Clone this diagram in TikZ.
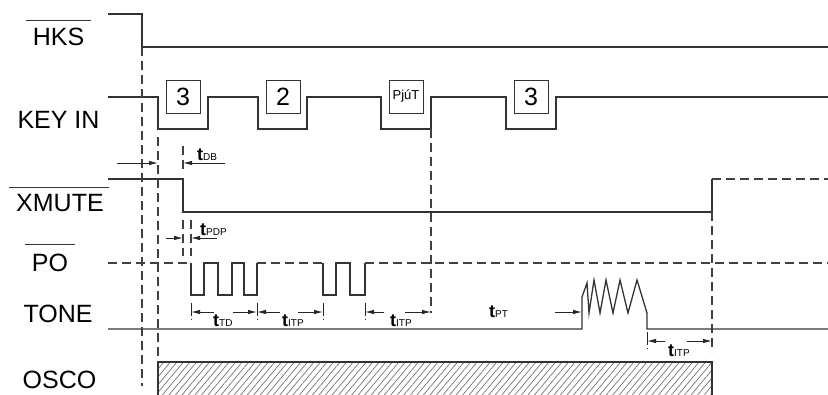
\documentclass[tikz,border=0pt]{standalone}
\usepackage{fontspec}
\setmainfont{Liberation Sans}
\usetikzlibrary{positioning, arrows.meta, patterns.meta}

\begin{document}
\begin{tikzpicture}[x=1pt, y=-1pt,
        sig/.style={line width=1.3pt, black!80},
        dsh/.style={line width=1.2pt, black!75, dash pattern=on 9pt off 5pt},
        bar/.style={line width=1pt, black!80},
        lbl/.style={inner sep=0pt, font=\fontsize{25}{25}\selectfont},
        keybox/.style={draw=black!80, line width=1pt, minimum width=34pt, minimum height=33pt, inner sep=0pt, font=\fontsize{25}{25}\selectfont},
        dimarrow/.style={line width=0.9pt, black!85, -{Latex[length=9pt,width=4.5pt]}},
        tickline/.style={line width=0.9pt, black!85, dash pattern=on 13pt off 3pt on 1pt off 20pt},
        tlbl/.style={inner sep=0pt, anchor=base west}]
        \useasboundingbox (0,0) rectangle (828,394);
        \newcommand{\tname}[1]{{\fontsize{18}{18}\selectfont\bfseries t}{\fontsize{10}{10}\selectfont #1}}
        % signal names
        \node[lbl] (hks) at (58.5,37) {HKS};
        \node[lbl] (keyin) at (58.5,120) {KEY IN};
        \node[lbl] (xmute) at (60,203.5) {XMUTE};
        \node[lbl] (po) at (50,263) {PO};
        \node[lbl] (tone) at (58,314) {TONE};
        \node[lbl] (osco) at (59.5,380) {OSCO};
        \draw[bar] ([xshift=-7pt,yshift=7pt]hks.north west) -- ([xshift=7pt,yshift=7pt]hks.north east);
        \draw[bar] ([xshift=-7pt,yshift=7pt]xmute.north west) -- ([xshift=5pt,yshift=7pt]xmute.north east);
        \draw[bar] ([xshift=-7pt,yshift=9pt]po.north west) -- ([xshift=7pt,yshift=9pt]po.north east);
        % HKS
        \draw[sig] (108,14) -- (142,14) -- (142,47) -- (828,47);
        % KEY IN
        \draw[sig] (108,97) -- (158,97) -- (158,129) -- (208,129) -- (208,97) -- (258,97) -- (258,129) -- (307,129) -- (307,97)
            -- (381,97) -- (381,129) -- (431,129) -- (431,97) -- (506,97) -- (506,129) -- (556,129) -- (556,97) -- (828,97);
        \node[keybox] (k1) at (183,96.5) {3};
        \node[keybox] (k2) at (283,96.5) {2};
        \node[keybox, font=\fontsize{13}{13}\selectfont] (k3) at (406,96.5) {PjúT};
        \node[keybox] (k4) at (531,96.5) {3};
        % XMUTE
        \draw[sig] (108,179) -- (183,179) -- (183,212) -- (712,212) -- (712,179);
        \draw[dsh] (712,179) -- (828,179);
        % PO
        \draw[dsh] (108,263) -- (191,263);
        \draw[sig] (191,263) -- (191,295) -- (204,295) -- (204,263) -- (218,263) -- (218,295) -- (232,295) -- (232,263)
            -- (244,263) -- (244,295) -- (257,295) -- (257,263);
        \draw[dsh] (257,263) -- (323,263);
        \draw[sig] (323,263) -- (323,295) -- (336,295) -- (336,263) -- (350,263) -- (350,295) -- (365,295) -- (365,263);
        \draw[dsh] (365,263) -- (828,263);
        % TONE
        \draw[sig] (108,329) -- (582,329) -- (582,297) -- (587,283) -- (589,313) -- (594,280) -- (600,313) -- (606,280)
            -- (613,313) -- (620,280) -- (628,313) -- (637,280) -- (647,313) -- (647,329) -- (828,329);
        % OSCO
        \fill[pattern={Lines[angle=50, distance=5pt, line width=0.7pt]}, pattern color=black!55] (158,362) rectangle (712,395);
        \draw[sig] (158,395) -- (158,362) -- (712,362) -- (712,395);
        % guide lines
        \draw[dsh] (142,47) -- (142,386);
        \draw[dsh] (158,137) -- (158,362);
        \draw[dsh] (183,146) -- (183,172);
        \draw[dsh] (183,220) -- (183,256);
        \draw[dsh] (191,220) -- (191,256);
        \draw[dsh] (431,129) -- (431,313);
        \draw[dsh] (712,212) -- (712,352);
        \foreach \x in {191,257,323,365} \draw[tickline] (\x,303) -- (\x,322);
        \draw[tickline] (647,332) -- (647,353);
        % timing
        \coordinate (db1) at (158,163);
        \coordinate (db2) at (183,163);
        \coordinate (pd1) at (183,238);
        \coordinate (pd2) at (191,238);
        \coordinate (p1) at (191,312);
        \coordinate (p2) at (257,312);
        \coordinate (p3) at (323,312);
        \coordinate (p4) at (365,312);
        \coordinate (p5) at (431,312);
        \coordinate (pt) at (582,312);
        \coordinate (q1) at (647,341);
        \coordinate (q2) at (712,341);
        \draw[dimarrow] ([xshift=-41pt]db1) -- (db1);
        \draw[dimarrow] ([xshift=42pt]db2) -- (db2);
        \node[tlbl] (tdb) at (197,160) {\tname{DB}};
        \draw[dimarrow] ([xshift=-17pt]pd1) -- (pd1);
        \draw[dimarrow] ([xshift=26pt]pd2) -- (pd2);
        \node[tlbl] (tpdp) at (200,235) {\tname{PDP}};
        \draw[dimarrow] ([xshift=23pt]p1) -- (p1);
        \draw[dimarrow] ([xshift=-24pt]p2) -- (p2);
        \node[tlbl] (ttd) at (213,326) {\tname{TD}};
        \draw[dimarrow] ([xshift=23pt]p2) -- (p2);
        \draw[dimarrow] ([xshift=-25pt]p3) -- (p3);
        \node[tlbl] (titp1) at (282,326) {\tname{ITP}};
        \draw[dimarrow] ([xshift=19pt]p4) -- (p4);
        \draw[dimarrow] ([xshift=-26pt]p5) -- (p5);
        \node[tlbl] (titp2) at (390,326) {\tname{ITP}};
        \draw[dimarrow] ([xshift=-27pt]pt) -- (pt);
        \node[tlbl] (tpt) at (489,317) {\tname{PT}};
        \draw[dimarrow] ([xshift=18pt]q1) -- (q1);
        \draw[dimarrow] ([xshift=-25pt]q2) -- (q2);
        \node[tlbl] (titp3) at (668,356) {\tname{ITP}};
\end{tikzpicture}
\end{document}
